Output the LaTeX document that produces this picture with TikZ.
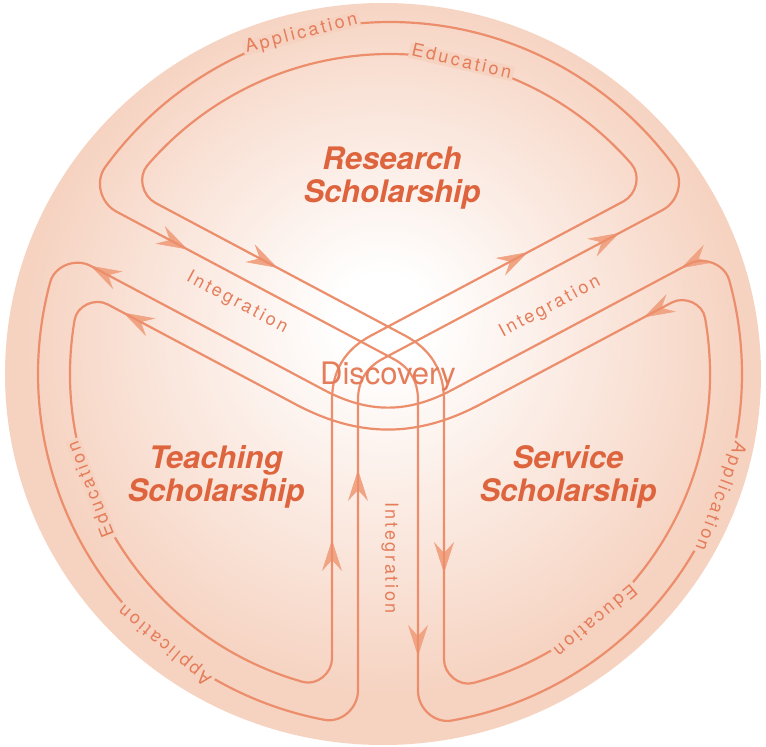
\documentclass[tikz,border=0pt]{standalone}
\usepackage{fontspec}
\setmainfont{TeX Gyre Heros}
\newfontfamily\trackfont[LetterSpace=15]{TeX Gyre Heros}
\usetikzlibrary{calc,arrows.meta}

\definecolor{peach}{RGB}{246,210,192}
\definecolor{lineorange}{RGB}{236,142,108}
\definecolor{labelorange}{RGB}{229,124,90}
\definecolor{titleorange}{RGB}{222,100,62}
\definecolor{arrowpeach}{RGB}{240,164,132}

\pgfdeclareradialshading{glow}{\pgfpoint{0bp}{4bp}}{%
  color(0bp)=(white); color(3bp)=(white); color(24bp)=(peach); color(50bp)=(peach)}

\begin{document}
\begin{tikzpicture}[x=1pt,y=1pt,
    track/.style={draw=lineorange, line width=2.2pt},
    flow/.style={arrowpeach, line width=0.6pt, -{Stealth[length=31pt,width=20pt,inset=11pt]}},
    rim/.style={fill=peach, text=labelorange, inner sep=2.5pt, text height=10pt, text depth=0pt,
      font=\trackfont\fontsize{18}{18}\selectfont},
    integ/.style={text=labelorange, font=\trackfont\fontsize{18}{18}\selectfont},
    title/.style={text=titleorange, align=center, font=\fontsize{31}{33}\selectfont\bfseries\itshape}]
  \useasboundingbox (-388,-357) rectangle (378,390);
  \coordinate (ctr) at (2,16);

  % Disc
  \shade[shading=glow] (-5,16) ellipse [x radius=378, y radius=371];

  % Flow arrows
  \foreach \ang/\nrm/\dd/\tail/\tip in {152/62/30/244/243, 152/62/56/156/155,
      28/118/30/277/278, 28/118/56/187/188, 28/-62/30/317/316, 28/-62/56/261/260,
      152/242/30/320/321, 152/242/56/269/270, 270/180/30/81/80, 270/180/56/151/150,
      270/0/30/265/266, 270/0/56/182/183}
    \draw[flow] ($(\ang:\tail)+(\nrm:\dd)$) -- ($(\ang:\tip)+(\nrm:\dd)$);

  % Outer track
  \draw[track] ($(28:326.9)+(118:30)$) to[out=28,in=306.3] ($(ctr)+(36.3:352)$)
    arc[start angle=36.3,end angle=144.0,radius=352]
    to[out=234.0,in=152] ($(152:323.4)+(62:30)$)
    -- ($(30,18.03)+(152:28)$) to[out=332,in=90] ($(30,18.03)+(270:28)$)
    -- (30,-300.9) to[out=270,in=190.1] ($(ctr)+(-79.9:352)$)
    arc[start angle=-79.9,end angle=15.4,radius=352]
    to[out=105.4,in=28] ($(28:324.6)+(-62:30)$)
    -- ($(0,-33.98)+(28:72)$) to[out=208,in=332] ($(0,-33.98)+(152:72)$)
    -- ($(152:320.9)+(242:30)$) to[out=152,in=74.9] ($(ctr)+(164.9:352)$)
    arc[start angle=164.9,end angle=259.25,radius=352]
    to[out=349.25,in=270] (-30,-300.5)
    -- ($(-30,18.03)+(270:28)$) to[out=90,in=208] ($(-30,18.03)+(28:28)$)
    -- cycle;

  % Inner track
  \draw[track] ($(28:296.4)+(118:56)$) to[out=28,in=311.05] ($(ctr)+(41.05:320)$)
    arc[start angle=41.05,end angle=139.3,radius=320]
    to[out=229.3,in=152] ($(152:293.1)+(62:56)$)
    -- ($(56,33.65)+(152:44)$) to[out=332,in=90] ($(56,33.65)+(270:44)$)
    -- (56,-269.4) to[out=270,in=195.1] ($(ctr)+(-74.9:320)$)
    arc[start angle=-74.9,end angle=10.15,radius=320]
    to[out=100.15,in=28] ($(28:291.7)+(-62:56)$)
    -- ($(0,-63.42)+(28:105)$) to[out=208,in=332] ($(0,-63.42)+(152:105)$)
    -- ($(152:287.8)+(242:56)$) to[out=152,in=80.2] ($(ctr)+(170.2:320)$)
    arc[start angle=170.2,end angle=254.2,radius=320]
    to[out=344.2,in=270] (-56,-268.7)
    -- ($(-56,33.65)+(270:44)$) to[out=90,in=208] ($(-56,33.65)+(28:44)$)
    -- cycle;

  % Rim labels
  \foreach \nm/\th/\rr/\txt in {appR/104.6/352/Application, eduR/77.1/320/Education,
      eduT/201.1/320/Education, appT/230.3/352/Application,
      appS/-20.3/352/Application, eduS/-50.2/320/Education}
    \node[rim, rotate=\th-90] (\nm) at ($(ctr)+(\th:\rr)$) {\txt};

  % Integration
  \node[integ, rotate=-28] (intL) at (-151,87) {Integration};
  \node[integ, rotate=28] (intR) at (162,83) {Integration};
  \node[integ, rotate=-90] (intD) at (2,-168) {Integration};

  % Scholarships
  \node[title] (research) at (4,212) {Research\\Scholarship};
  \node[title] (teaching) at (-172,-87) {Teaching\\Scholarship};
  \node[title] (service) at (180,-87) {Service\\Scholarship};
  \node[text=labelorange, font=\fontsize{31}{31}\selectfont] (discovery) at (0,13.5) {Discovery};
\end{tikzpicture}
\end{document}
